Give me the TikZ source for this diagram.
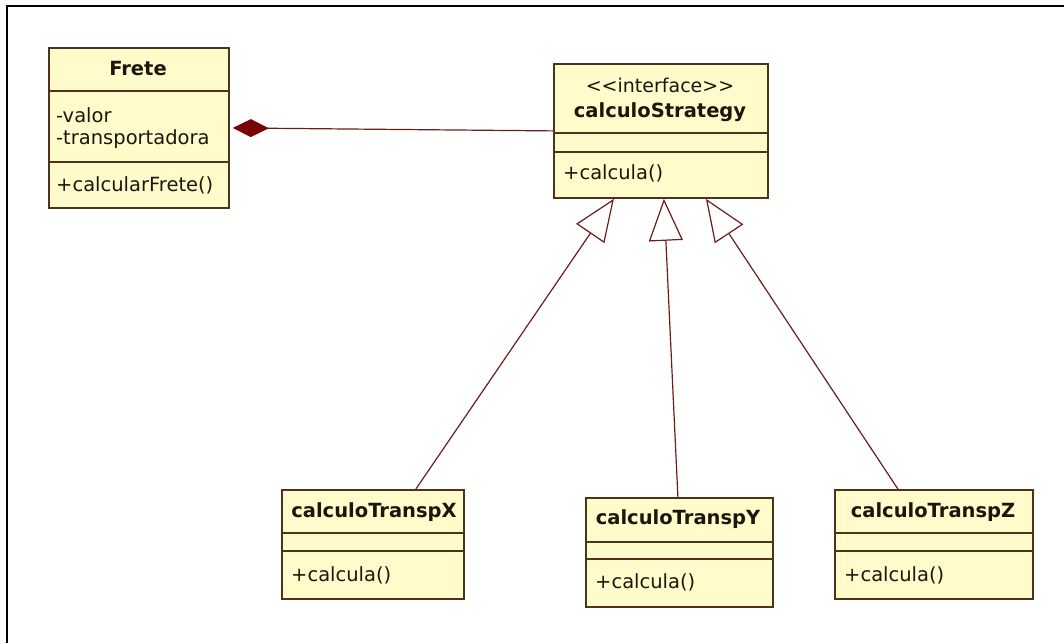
\documentclass[tikz,border=0pt]{standalone}
\usepackage{fontspec}
\setmainfont{DejaVu Sans}
\usetikzlibrary{arrows.meta,calc}
\definecolor{classfill}{RGB}{255,251,203}
\definecolor{classline}{RGB}{80,50,28}
\definecolor{linkline}{RGB}{105,30,25}
\definecolor{diamondred}{RGB}{120,5,5}
\definecolor{txt}{RGB}{30,22,12}
\begin{document}
\begin{tikzpicture}[x=1pt,y=-1pt,
  classbox/.style={draw=classline,fill=classfill,line width=1.8pt,inner sep=0pt,anchor=north west},
  divider/.style={draw=classline,line width=1.6pt},
  title/.style={font=\fontsize{19.5}{23}\selectfont\bfseries,text=txt,inner sep=0pt},
  member/.style={font=\fontsize{19.5}{23}\selectfont,text=txt,inner sep=0pt,anchor=west},
  stereo/.style={font=\fontsize{19}{23}\selectfont,text=txt,inner sep=0pt},
  link/.style={draw=linkline,line width=1.2pt},
  realizes/.style={link,-{Triangle[open,length=42pt,width=34pt,fill=white]}},
  owns/.style={link,{Diamond[length=36pt,width=18pt,color=diamondred,fill=diamondred]}-}
]
\useasboundingbox (0,0) rectangle (1064,643);
% outer frame
\draw[black,line width=2pt] (7,643) -- (7,6) -- (1064,6);

% Frete
\node[classbox,minimum width=180pt,minimum height=160pt] (frete) at (48,47) {};
\draw[divider] (48,91) -- (228,91);
\draw[divider] (48,162) -- (228,162);
\node[title] (freteT) at (138,69) {Frete};
\node[member] (freteA1) at (56,115) {-valor};
\node[member] (freteA2) at (56,139) {-transportadora};
\node[member] (freteM1) at (56,185) {+calcularFrete()};

% calculoStrategy
\node[classbox,minimum width=214pt,minimum height=134pt] (strat) at (553,63) {};
\draw[divider] (553,133) -- (767,133);
\draw[divider] (553,152) -- (767,152);
\node[stereo] (stratS) at (660,85) {{<}{<}interface{>}{>}};
\node[title] (stratT) at (660,112) {calculoStrategy};
\node[member] (stratM1) at (563,173) {+calcula()};

% calculoTranspX
\node[classbox,minimum width=182pt,minimum height=109pt] (tx) at (281,489) {};
\draw[divider] (281,533) -- (463,533);
\draw[divider] (281,551) -- (463,551);
\node[title] (txT) at (374,512) {calculoTranspX};
\node[member] (txM1) at (291,575) {+calcula()};

% calculoTranspY
\node[classbox,minimum width=187pt,minimum height=109pt] (ty) at (585,497) {};
\draw[divider] (585,542) -- (772,542);
\draw[divider] (585,559) -- (772,559);
\node[title] (tyT) at (678,519) {calculoTranspY};
\node[member] (tyM1) at (595,582) {+calcula()};

% calculoTranspZ
\node[classbox,minimum width=198pt,minimum height=109pt] (tz) at (834,489) {};
\draw[divider] (834,533) -- (1032,533);
\draw[divider] (834,551) -- (1032,551);
\node[title] (tzT) at (933,512) {calculoTranspZ};
\node[member] (tzM1) at (844,575) {+calcula()};

% composition Frete <>-- calculoStrategy
\draw[owns,shorten <=3pt] (frete.east) -- (strat.west);

% realizations
\draw[realizes] ([xshift=43pt]tx.north) -- ([xshift=-47pt]strat.south);
\draw[realizes] ([xshift=-1.5pt]ty.north) -- ([xshift=3pt]strat.south);
\draw[realizes] ([xshift=-36pt]tz.north) -- ([xshift=45pt]strat.south);
\end{tikzpicture}
\end{document}
